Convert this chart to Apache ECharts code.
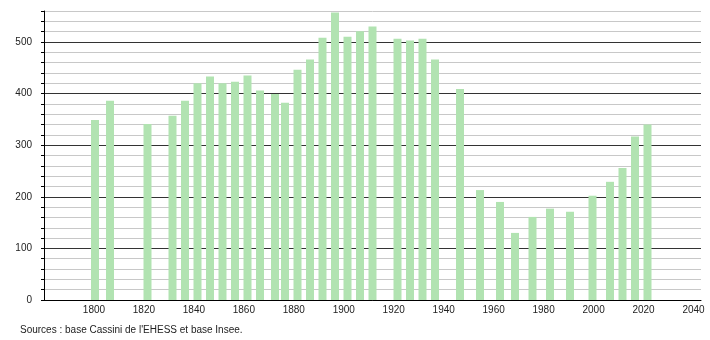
<!DOCTYPE html>
<html>
<head>
<meta charset="utf-8">
<script src="https://cdn.jsdelivr.net/npm/echarts@6/dist/echarts.min.js"></script>
<style>
html,body{margin:0;padding:0;background:#fff;}
#chart{width:710px;height:340px;}
</style>
</head>
<body>
<div id="chart"></div>
<script>
const years = [1800, 1806, 1821, 1831, 1836, 1841, 1846, 1851, 1856, 1861, 1866, 1872, 1876, 1881, 1886, 1891, 1896, 1901, 1906, 1911, 1921, 1926, 1931, 1936, 1946, 1954, 1962, 1968, 1975, 1982, 1990, 1999, 2006, 2011, 2016, 2021];
const population = [349, 386, 341, 357, 386, 420, 433, 420, 423, 435, 406, 399, 382, 446, 466, 508, 557, 510, 521, 530, 506, 503, 506, 466, 409, 213, 190, 130, 161, 177, 171, 202, 229, 256, 317, 340];
const xTickLabels = [1800, 1820, 1840, 1860, 1880, 1900, 1920, 1940, 1960, 1980, 2000, 2020, 2040];
const yTickLabels = [0, 100, 200, 300, 400, 500];
const sourceText = "Sources : base Cassini de l'EHESS et base Insee.";

const chart = echarts.init(document.getElementById('chart'), null, {renderer: 'canvas'});
const font = 'Liberation Sans, Arial, sans-serif';
chart.setOption({
  animation: false,
  backgroundColor: '#fff',
  grid: {left: 44, right: 9, top: 11, bottom: 40, containLabel: false},
  xAxis: [{
    type: 'value', min: 1780, max: 2043, interval: 20,
    axisLine: {show: true, lineStyle: {color: '#000', width: 1}},
    axisTick: {show: false},
    splitLine: {show: false},
    axisLabel: {
      fontFamily: font, fontSize: 10, color: '#222', margin: 5,
      showMinLabel: true, showMaxLabel: true,
      formatter: v => xTickLabels.includes(v) ? String(v) : ''
    }
  }, {
    type: 'value', min: 1779.6, max: 2042.4, position: 'bottom',
    show: false
  }],
  yAxis: {
    type: 'value', min: 0, max: 560, interval: 20,
    axisLine: {show: true, lineStyle: {color: '#000', width: 1}},
    axisTick: {show: true, length: 3, lineStyle: {color: '#000'}},
    splitLine: {show: true, lineStyle: {color: ['#333', '#c8c8c8', '#c8c8c8', '#c8c8c8', '#c8c8c8'], width: 1}},
    axisLabel: {
      fontFamily: font, fontSize: 10, color: '#222', margin: 12,
      formatter: v => yTickLabels.includes(v) ? String(v) : ''
    }
  },
  series: [{
    type: 'bar',
    xAxisIndex: 1,
    data: years.map((y, i) => [y, population[i]]),
    barWidth: 8,
    itemStyle: {color: '#b1e3b1'},
    z: 3
  }],
  graphic: [{
    type: 'text', left: 20, top: 325,
    style: {text: sourceText, font: '10px ' + font, fill: '#222'}
  }]
});
</script>
</body>
</html>
